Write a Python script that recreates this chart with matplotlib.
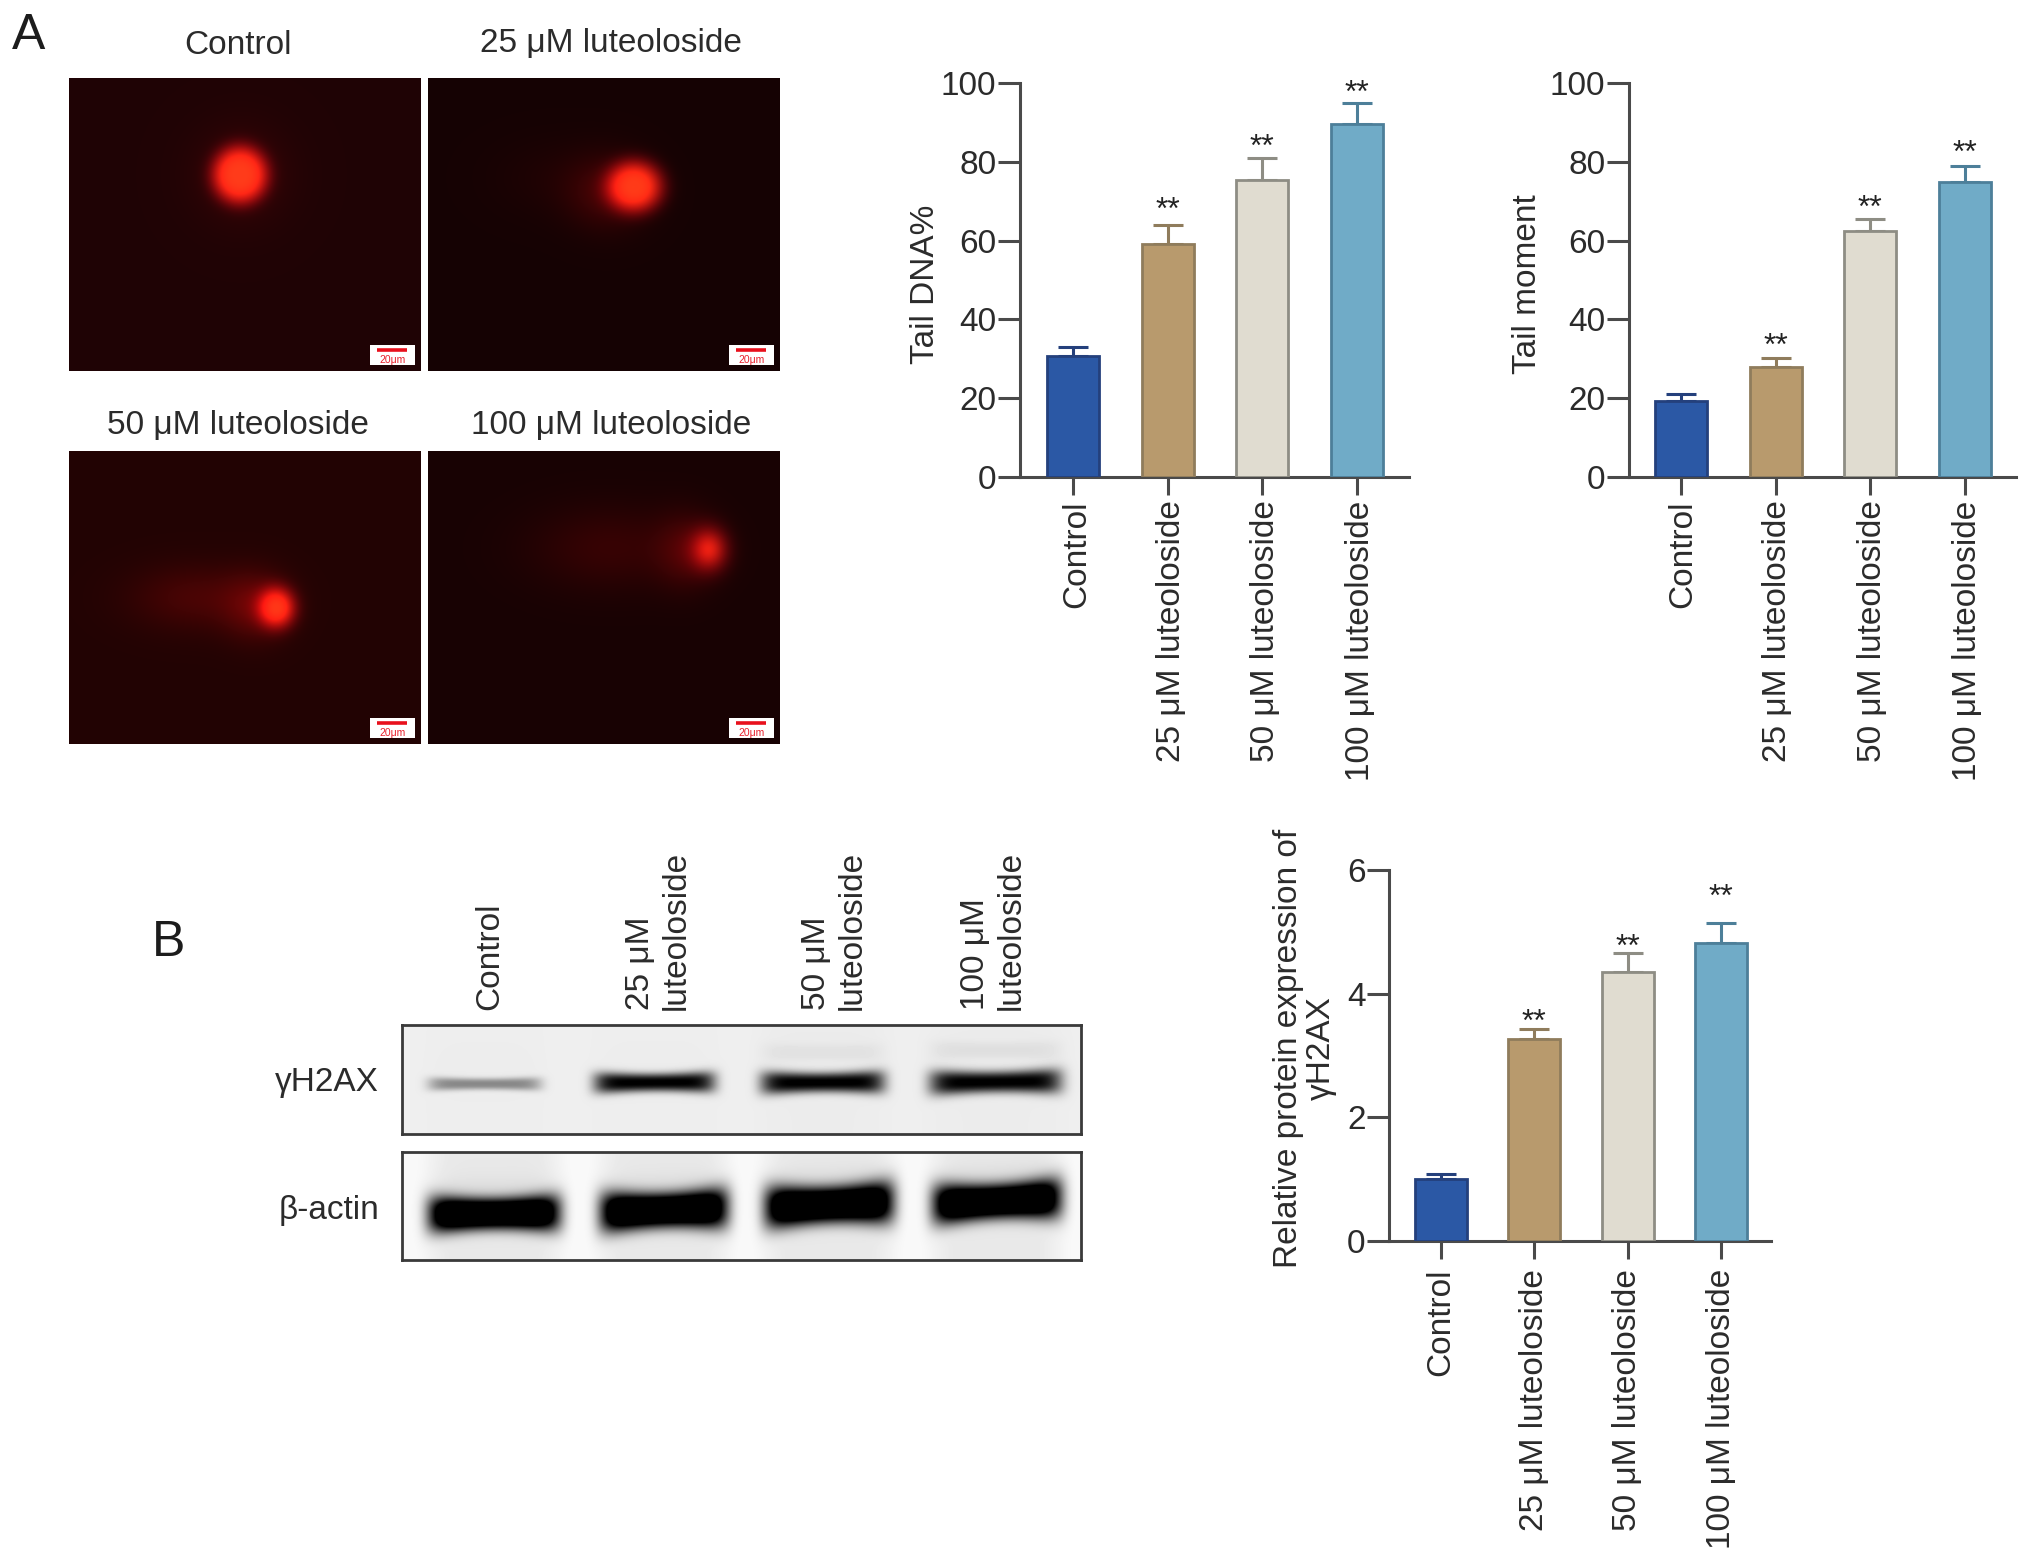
import numpy as np
import matplotlib
matplotlib.use("Agg")
import matplotlib.pyplot as plt
from matplotlib.patches import Rectangle
from matplotlib.transforms import ScaledTranslation

W, H = 2032, 1562
plt.rcParams['font.family'] = ['Liberation Sans', 'DejaVu Sans']
TXT = '#2b2b2b'
AX = '#4a4a4a'
FS = 24

groups = ['Control', '25 μM luteoloside', '50 μM luteoloside', '100 μM luteoloside']
lane_labels = ['Control', '25 μM\nluteoloside', '50 μM\nluteoloside', '100 μM\nluteoloside']
fill_colors = ['#2b58a5', '#b89a6d', '#e0dcd0', '#70abc7']
edge_colors = ['#24407c', '#8f7c5c', '#8e8d84', '#4d7f99']

tail_dna = [30.8, 59.2, 75.5, 89.7]
tail_dna_err = [2.2, 4.8, 5.5, 5.3]
tail_dna_star = [None, 68.5, 84.5, 98]

tail_moment = [19.2, 27.8, 62.5, 74.8]
tail_moment_err = [1.8, 2.4, 3, 4.2]
tail_moment_star = [None, 34, 69, 83]

h2ax = [1.0, 3.27, 4.35, 4.82]
h2ax_err = [0.09, 0.16, 0.3, 0.33]
h2ax_star = [None, 3.58, 4.8, 5.6]


def rect(x0, y0, x1, y1):
    return [x0 / W, 1 - y1 / H, (x1 - x0) / W, (y1 - y0) / H]


def label(x, y, s, **kw):
    kw.setdefault('fontsize', FS)
    kw.setdefault('color', TXT)
    kw.setdefault('ha', 'center')
    kw.setdefault('va', 'center')
    fig.text(x / W, 1 - y / H, s, **kw)


fig = plt.figure(figsize=(W / 100, H / 100), dpi=100, facecolor='white')

# ---------- comet images ----------
# (cx, cy, rx, ry, amp, sharpness) as fractions of the panel: head, then tail glows
comet_panels = [
    dict(box=(69, 78, 421, 371), title='Control', tx=238, ty=46, bg=(0.125, 0.012, 0.02),
         blobs=[(0.486, 0.33, 0.08, 0.10, 1.0, 3.5)], glow=[(0.49, 0.33, 0.13, 0.16, 0.10)]),
    dict(box=(428, 78, 780, 371), title='25 μM luteoloside', tx=611, ty=44, bg=(0.085, 0.008, 0.012),
         blobs=[(0.587, 0.37, 0.08, 0.088, 1.0, 3.0)],
         glow=[(0.51, 0.39, 0.11, 0.12, 0.18), (0.36, 0.34, 0.17, 0.13, 0.035)]),
    dict(box=(69, 451, 421, 744), title='50 μM luteoloside', tx=238, ty=426, bg=(0.135, 0.012, 0.012),
         blobs=[(0.59, 0.535, 0.052, 0.068, 0.95, 2.4)],
         glow=[(0.53, 0.53, 0.09, 0.11, 0.24), (0.36, 0.50, 0.18, 0.11, 0.15)]),
    dict(box=(428, 451, 780, 744), title='100 μM luteoloside', tx=611, ty=426, bg=(0.095, 0.008, 0.012),
         blobs=[(0.80, 0.335, 0.05, 0.07, 0.72, 2.0)],
         glow=[(0.73, 0.34, 0.08, 0.12, 0.18), (0.52, 0.33, 0.22, 0.14, 0.12)]),
]

for p in comet_panels:
    x0, y0, x1, y1 = p['box']
    ax = fig.add_axes(rect(x0, y0, x1, y1))
    yy, xx = np.mgrid[0:1:300j, 0:1:360j]
    core = np.zeros_like(xx)
    for cx, cy, rx, ry, a, sharp in p['blobs']:
        d = np.sqrt(((xx - cx) / rx) ** 2 + ((yy - cy) / ry) ** 2)
        core = np.maximum(core, a * np.exp(-d ** sharp))
    halo = np.zeros_like(xx)
    for cx, cy, rx, ry, a in p['glow']:
        halo += a * np.exp(-((xx - cx) / rx) ** 2 - ((yy - cy) / ry) ** 2)
    r = np.clip(p['bg'][0] + halo + core, 0, 1)
    g = np.clip(p['bg'][1] + 0.22 * core ** 2 + 0.03 * halo, 0, 1)
    b = np.clip(p['bg'][2] + 0.08 * core + 0.03 * halo, 0, 1)
    ax.imshow(np.dstack([r, g, b]), extent=(0, 1, 1, 0), aspect='auto', interpolation='bilinear')
    ax.add_patch(Rectangle((0.855, 0.91), 0.127, 0.07, fc='white', ec='none'))
    ax.plot([0.875, 0.96], [0.93, 0.93], color='#e8101c', lw=2.6, solid_capstyle='butt')
    ax.text(0.918, 0.962, '20μm', color='#e8202c', fontsize=7.5, ha='center', va='center')
    ax.set_xlim(0, 1)
    ax.set_ylim(1, 0)
    ax.axis('off')
    label(p['tx'], p['ty'], p['title'])

label(12, 36, 'A', fontsize=36, ha='left', color='#1c1c1c')
label(152, 943, 'B', fontsize=36, ha='left', color='#1c1c1c')


# ---------- bar charts ----------
def bar_panel(box, first_bar, step, width, ymax, yticks, values, errs, stars,
              label_shift=4, label_pad=4):
    x0, y0, x1, y1 = box
    ax = fig.add_axes(rect(x0, y0, x1, y1))
    ax.patch.set_alpha(0)
    pos = np.arange(len(values))
    ax.bar(pos, values, width=width / step, color=fill_colors, edgecolor=edge_colors,
           linewidth=2, zorder=3)
    for i, v in enumerate(values):
        ax.errorbar(i, v, yerr=[[0], [errs[i]]], color=edge_colors[i], elinewidth=2.2,
                    capsize=11, capthick=2.2, zorder=2, fmt='none')
        if stars[i] is not None:
            ax.text(i, stars[i], '**', fontsize=23, color='#222222', ha='center',
                    va='center_baseline')
    ax.set_xlim((x0 - first_bar) / step, (x1 - first_bar) / step)
    ax.set_ylim(0, ymax)
    ax.set_yticks(yticks)
    ax.set_xticks(pos)
    ax.set_xticklabels(groups, rotation=90, ha='center', va='top')
    ax.tick_params(axis='y', length=16, width=2.2, color=AX, labelsize=FS, labelcolor=TXT, pad=1)
    ax.tick_params(axis='x', length=13, width=2.2, color=AX, labelsize=FS, labelcolor=TXT,
                   pad=label_pad)
    shift = ScaledTranslation(label_shift / 100, 0, fig.dpi_scale_trans)
    for t in ax.get_xticklabels():
        t.set_transform(t.get_transform() + shift)
    for s in ('top', 'right'):
        ax.spines[s].set_visible(False)
    for s in ('left', 'bottom'):
        ax.spines[s].set_linewidth(2.2)
        ax.spines[s].set_color(AX)
    return ax


bar_panel((1020, 83, 1409, 477), 1073, 94.5, 52, 100, range(0, 101, 20),
          tail_dna, tail_dna_err, tail_dna_star)
label(925, 284, 'Tail DNA%', rotation=90)

bar_panel((1629, 83, 2016, 477), 1681, 94.7, 52, 100, range(0, 101, 20),
          tail_moment, tail_moment_err, tail_moment_star, label_shift=2)
label(1527, 284, 'Tail moment', rotation=90)

bar_panel((1389, 870, 1771, 1241), 1441, 93.4, 52, 6, range(0, 7, 2),
          h2ax, h2ax_err, h2ax_star, label_shift=0, label_pad=7)
label(1305, 1048, 'Relative protein expression of\nγH2AX', rotation=90, linespacing=1.05)

# ---------- western blots ----------
# (x0, x1, yc_left, yc_right, half-height, strength) in figure pixels
h2ax_bands = [(428, 541, 1084, 1084, 7, 0.42), (594, 715, 1083, 1082, 11, 1.0),
              (761, 885, 1083, 1082, 12, 1.0), (930, 1062, 1083, 1081, 13, 1.0)]
h2ax_faint = [(761, 885, 1052, 1052, 10, 0.04), (930, 1062, 1050, 1050, 10, 0.05)]
actin_bands = [(428, 560, 1215, 1213, 19, 1.4), (600, 728, 1213, 1208, 21, 1.4),
               (765, 894, 1208, 1202, 22, 1.4), (933, 1062, 1205, 1198, 21, 1.4)]


def blot(box, bands, bg, smear):
    x0, y0, x1, y1 = box
    ax = fig.add_axes(rect(x0, y0, x1, y1))
    yy, xx = np.mgrid[y0:y1:(y1 - y0) * 1j, x0:x1:(x1 - x0) * 1j]
    dark = np.zeros_like(xx)
    for bx0, bx1, yl, yr, hh, amp in bands:
        cx, wx = (bx0 + bx1) / 2, (bx1 - bx0) / 2
        t = (xx - cx) / wx
        yc = yl + (yr - yl) * (t + 1) / 2
        hx = hh * (0.82 + 0.25 * t ** 2)
        dark += amp * np.exp(-np.abs(t) ** 8) * np.exp(-np.abs((yy - yc) / hx) ** 2.6)
        dark += smear * np.exp(-np.abs(t) ** 6)
        dark += 0.9 * smear * np.exp(-np.abs(t) ** 6) * np.exp(-((yy - yc + 12) / 22) ** 2)
    g = bg * (1 - np.clip(dark, 0, 1))
    ax.imshow(g, extent=(x0, x1, y1, y0), aspect='auto', cmap='gray', vmin=0, vmax=1,
              interpolation='bilinear')
    ax.set_xticks([])
    ax.set_yticks([])
    for s in ax.spines.values():
        s.set_linewidth(2)
        s.set_color('#3a3a3a')


blot((402, 1025, 1081, 1134), h2ax_bands + h2ax_faint, 0.935, 0.005)
blot((402, 1152, 1081, 1260), actin_bands, 0.98, 0.07)
label(379, 1082, 'γH2AX', ha='right')
label(379, 1211, 'β-actin', ha='right')

lane_x = [490, 658, 834, 993]
for x, s in zip(lane_x, lane_labels):
    label(x, 1010, s, rotation=90, va='bottom', ha='center', ma='left', linespacing=1.2)

fig.savefig('out.png', dpi=100, facecolor='white')
